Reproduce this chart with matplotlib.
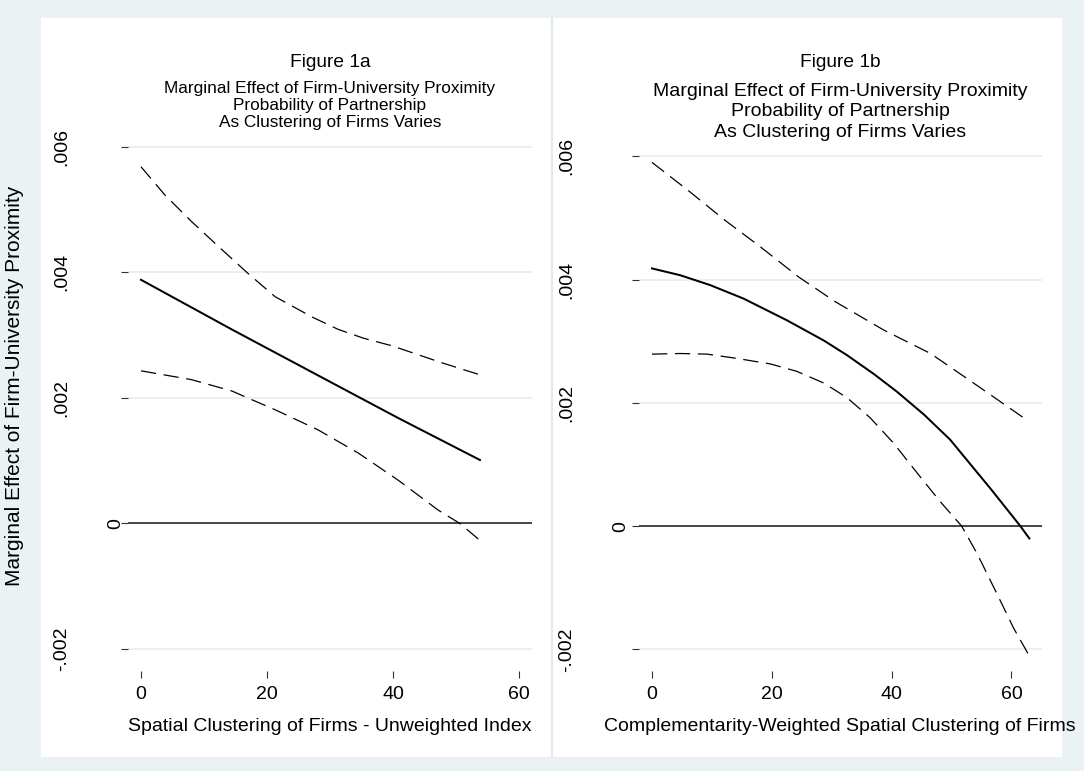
import matplotlib
matplotlib.use('Agg')
import matplotlib.pyplot as plt
from matplotlib.lines import Line2D
from matplotlib.patches import Rectangle

plt.rcParams['font.family'] = ['Liberation Sans', 'DejaVu Sans']
plt.rcParams['lines.scale_dashes'] = False

# ---------------- data ----------------
x_ticks = [0, 20, 40, 60]
y_ticks = [-0.002, 0, 0.002, 0.004, 0.006]
y_tick_labels = ['-.002', '0', '.002', '.004', '.006']

# Figure 1a
a_est_x = [0, 14.4, 30.3, 40.8, 53.8]
a_est = [0.00388, 0.00309, 0.00224, 0.00168, 0.00101]
a_upper_x = [0, 3.8, 8.0, 12.3, 17.0, 21.3, 27.1, 31.3, 35.3, 39.8, 47.7, 53.7]
a_upper = [0.00568, 0.00523, 0.00481, 0.00441, 0.00398, 0.00361, 0.00329,
           0.00309, 0.00295, 0.00283, 0.00256, 0.00237]
a_lower_x = [0, 8.0, 14.4, 17.6, 21.3, 28.1, 34.5, 40.8, 47.2, 50.6, 53.8]
a_lower = [0.00243, 0.00229, 0.00211, 0.00197, 0.00181, 0.00149, 0.00112,
           0.00069, 0.00021, 0.0, -0.00027]

# Figure 1b
b_est_x = [0, 4.7, 9.7, 15.3, 22.5, 28.7, 32.6, 37.0, 40.9, 45.4, 49.8,
           53.1, 56.5, 61.5, 63.0]
b_est = [0.00418, 0.00407, 0.00391, 0.00369, 0.00334, 0.00301, 0.00277,
         0.00247, 0.00218, 0.00181, 0.00140, 0.00101, 0.00061, 0.0, -0.00020]
b_upper_x = [0, 6.1, 12.2, 18.1, 24.5, 30.6, 38.7, 46.5, 53.1, 62.3]
b_upper = [0.00590, 0.00544, 0.00496, 0.00453, 0.00404, 0.00364, 0.00318,
           0.00280, 0.00236, 0.00174]
b_lower_x = [0, 4.7, 9.2, 14.2, 19.8, 24.2, 28.7, 32.6, 36.4, 40.3, 44.2,
             48.1, 51.7, 54.3, 57.6, 60.4, 62.9]
b_lower = [0.00279, 0.00280, 0.00279, 0.00272, 0.00263, 0.00251, 0.00232,
           0.00208, 0.00176, 0.00135, 0.00087, 0.00040, 0.0, -0.00045,
           -0.00110, -0.00166, -0.00209]

title_a = 'Figure 1a'
title_b = 'Figure 1b'
subtitle_lines = ['Marginal Effect of Firm-University Proximity',
                  'Probability of Partnership',
                  'As Clustering of Firms Varies']
xlabel_a = 'Spatial Clustering of Firms - Unweighted Index'
xlabel_b = 'Complementarity-Weighted Spatial Clustering of Firms'
ylabel = 'Marginal Effect of Firm-University Proximity'

# ---------------- layout ----------------
W, H, DPI = 1084, 771, 100
BG = '#EAF2F3'
fig = plt.figure(figsize=(W / DPI, H / DPI), dpi=DPI, facecolor=BG)


def fx(px):
    return px / W


def fy(py):
    return 1 - py / H


# white sub-graph regions
for x0, x1 in [(41, 552), (552, 1062)]:
    fig.add_artist(Rectangle((fx(x0), fy(757)), fx(x1) - fx(x0), fy(18) - fy(757),
                             transform=fig.transFigure, facecolor='white',
                             edgecolor='none', zorder=-2))
fig.add_artist(Line2D([fx(552), fx(552)], [fy(18), fy(757)], transform=fig.transFigure,
                      color='#E3E8EA', lw=1.5, zorder=-1))

YLIM = (-0.00235, 0.0062)
axL = fig.add_axes([fx(128), fy(671), (532 - 128) / W, (671 - 134.1) / H])
axR = fig.add_axes([fx(638.5), fy(671), (1042 - 638.5) / W, (671 - 143.9) / H])

panels = [
    (axL, (-2.06, 62.06), a_est_x, a_est, a_upper_x, a_upper, a_lower_x, a_lower,
     xlabel_a, 42.5, 4.0, 536.9),
    (axR, (-2.254, 65.11), b_est_x, b_est, b_upper_x, b_upper, b_lower_x, b_lower,
     xlabel_b, 47.0, 7.6, 527.1),
]

for (ax, xlim, ex, ey, ux, uy, lx, ly, xl, ypad, zpad, hpx) in panels:
    ax.set_facecolor('none')
    for s in ax.spines.values():
        s.set_visible(False)
    ax.set_xlim(*xlim)
    ax.set_ylim(*YLIM)
    ax.set_yticks(y_ticks)
    ax.set_yticklabels(y_tick_labels, rotation=90, va='center', ha='center')
    ax.set_xticks(x_ticks)
    ax.set_xticklabels([str(v) for v in x_ticks])
    ax.tick_params(axis='both', direction='out', length=5, width=0.8,
                   color='#333333', labelsize=14, labelcolor='black')
    ax.tick_params(axis='x', pad=15.5)
    for lab in ax.get_xticklabels():
        lab.set_va('baseline')
    for t, lab in zip(ax.yaxis.get_major_ticks(), y_tick_labels):
        t.set_pad(zpad if lab == '0' else ypad)
    ax.grid(axis='y', color='#E6ECEE', lw=1.2)
    ax.set_axisbelow(True)
    ax.axhline(0, color='#2A2A2A', lw=1.2, zorder=2)
    ax.plot(ex, ey, color='black', lw=1.45, zorder=3)
    ax.plot(ux, uy, color='black', lw=0.9, dashes=(11, 5.5), zorder=3)
    ax.plot(lx, ly, color='black', lw=0.9, dashes=(11, 5.5), zorder=3)
    ax.set_xlabel(xl, fontsize=14, va='baseline')
    ax.xaxis.set_label_coords(0.5, -60 / hpx)

# titles
fig.text(fx(330), fy(67), title_a, ha='center', va='baseline', fontsize=13.8)
fig.text(fx(840), fy(67), title_b, ha='center', va='baseline', fontsize=13.8)
for i, line in enumerate(subtitle_lines):
    fig.text(fx(330), fy(93.5 + 16.6 * i), line, ha='center', va='baseline', fontsize=12.4)
    fig.text(fx(840), fy(96.0 + 20.5 * i), line, ha='center', va='baseline', fontsize=14)

# combined y title at the far left edge
fig.text(fx(20), fy(386), ylabel, rotation=90, rotation_mode='anchor',
         ha='center', va='baseline', fontsize=15)

fig.savefig('out.png', dpi=DPI, facecolor=BG)
